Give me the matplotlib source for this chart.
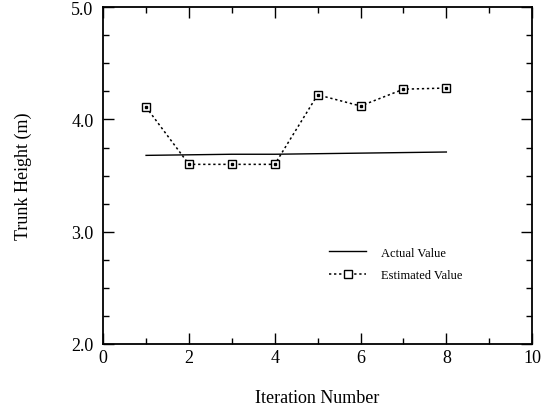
import matplotlib
matplotlib.use("Agg")
import matplotlib.pyplot as plt
from matplotlib.ticker import MultipleLocator, FormatStrFormatter

plt.rcParams['font.family'] = ['Liberation Serif', 'DejaVu Serif']

iterations = [1, 2, 3, 4, 5, 6, 7, 8]
actual_height = [3.68, 3.685, 3.69, 3.69, 3.695, 3.70, 3.705, 3.71]
estimated_height = [4.11, 3.60, 3.60, 3.60, 4.22, 4.12, 4.27, 4.28]

fig = plt.figure(figsize=(5.43, 4.14), dpi=100)
ax = fig.add_axes([0.19, 0.167, 0.79, 0.813])

ax.plot(iterations, actual_height, color='black', lw=1.0, label='Actual Value')
ax.plot(iterations, estimated_height, color='black', lw=1.1, linestyle=(0, (1.5, 1.8)),
        marker='s', markersize=6, markerfacecolor='white', markeredgecolor='black',
        markeredgewidth=1.0, label='Estimated Value')
ax.plot(iterations, estimated_height, linestyle='none', marker='s', markersize=1.5,
        color='black')

ax.set_xlim(0, 10)
ax.set_ylim(2.0, 5.0)
ax.xaxis.set_major_locator(MultipleLocator(2))
ax.xaxis.set_minor_locator(MultipleLocator(1))
ax.yaxis.set_major_locator(MultipleLocator(1.0))
ax.yaxis.set_minor_locator(MultipleLocator(0.25))
ax.yaxis.set_major_formatter(FormatStrFormatter('%.1f'))
ax.tick_params(which='both', direction='in', top=True, right=True, width=1.0,
               labelsize=13)
ax.tick_params(axis='x', pad=4)
ax.tick_params(axis='y', pad=7)
ax.tick_params(which='major', length=8)
ax.tick_params(which='minor', length=4)
for s in ax.spines.values():
    s.set_linewidth(1.3)

ax.set_xlabel('Iteration Number', fontsize=13, labelpad=16)
ax.set_ylabel('Trunk Height (m)', fontsize=13, labelpad=28)

leg = ax.legend(loc='upper left', bbox_to_anchor=(0.5, 0.322), frameon=False,
                fontsize=9, handlelength=3.0, handletextpad=1.2, labelspacing=0.85)

fig.savefig('out.png', dpi=100)
